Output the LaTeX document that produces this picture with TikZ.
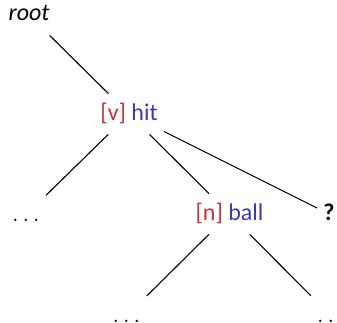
\documentclass[tikz,border=0pt]{standalone}
\usepackage{fontspec}
\setmainfont{Carlito}
\usepackage{tikz}
\usetikzlibrary{positioning}
\definecolor{tagRed}{RGB}{196,52,58}
\definecolor{wordBlue}{RGB}{58,58,186}
\newcommand{\ptag}[1]{\textcolor{tagRed}{[#1]}}
\newcommand{\wrd}[1]{\textcolor{wordBlue}{#1}}

\begin{document}
\begin{tikzpicture}[
			x=0.5pt,y=0.5pt,
			t/.style={
				font=\fontsize{12}{14}\selectfont,
				text height=8.5pt,
				text depth=2.5pt,
				inner xsep=3pt,
				inner ysep=4.5pt
			},
			e/.style={
				line width=0.55pt
			}
			]
			\useasboundingbox (0,0) rectangle (337,322);
			\node[t](root) at (29,307){\textit{root}};
			\node[t](hit) at (129,208){\ptag{v} \wrd{hit}};
			\node[t](ldots) at (26,107){$\ldots$};
			\node[t](ball) at (229.5,108){\ptag{n} \wrd{ball}};
			\node[t](q) at (329,108){\textbf{?}};
			\node[t](bl) at (126.5,6){$\ldots$};
			\node[t](br) at (331,6){$\ldots$};
			\draw[e](root)--(hit);
			\draw[e](hit)--(ldots);
			\draw[e](hit)--(ball);
			\draw[e](hit)--(q);
			\draw[e](ball)--(bl);
			\draw[e](ball)--(br);
		\end{tikzpicture}
\end{document}
